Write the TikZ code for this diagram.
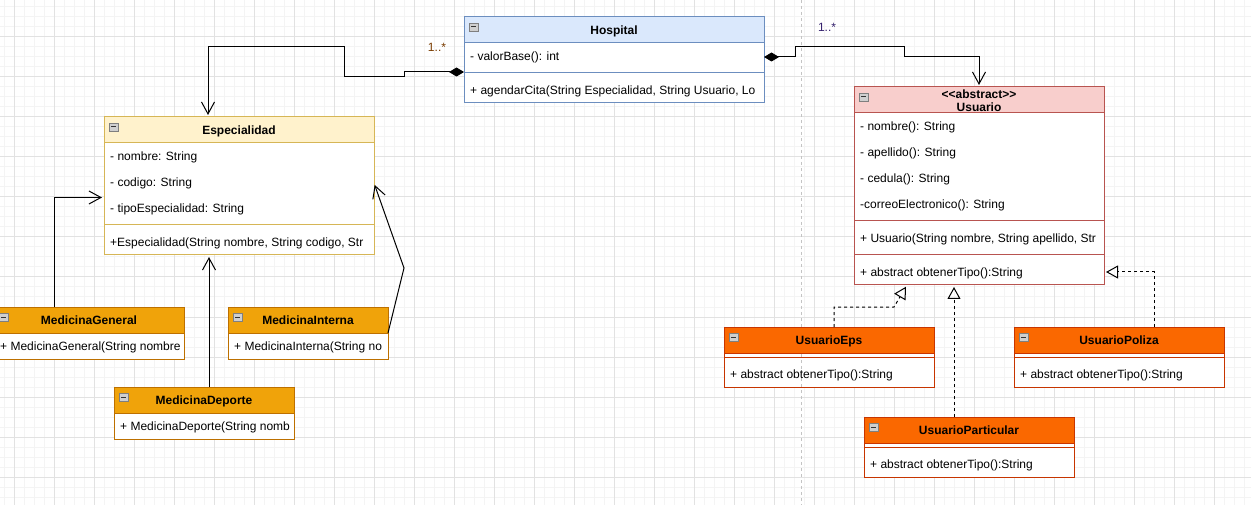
\documentclass[tikz,border=0pt]{standalone}
\usepackage{fontspec}
\setmainfont{Liberation Sans}
\usetikzlibrary{arrows.meta}
\definecolor{hospF}{HTML}{DAE8FC}
\definecolor{hospS}{HTML}{6C8EBF}
\definecolor{espF}{HTML}{FFF2CC}
\definecolor{espS}{HTML}{D6B656}
\definecolor{usuF}{HTML}{F8CECC}
\definecolor{usuS}{HTML}{B85450}
\definecolor{medF}{HTML}{F0A30A}
\definecolor{medS}{HTML}{BD7000}
\definecolor{subF}{HTML}{FA6800}
\definecolor{subS}{HTML}{C73500}
\definecolor{gmin}{HTML}{F4F4F4}
\definecolor{gmaj}{HTML}{E2E2E2}
\definecolor{pgline}{HTML}{C4C4C4}
\definecolor{multA}{HTML}{7A3C00}
\definecolor{multB}{HTML}{36226E}
\definecolor{icoF}{HTML}{CFCFCF}
\definecolor{icoS}{HTML}{7F7F7F}
\newcommand\clsicon[2]{%
  \draw[icoS, fill=icoF, line width=0.8pt] (#1+5,#2+6) rectangle (#1+14,#2+14);
  \draw[black!80, line width=1pt] (#1+7,#2+10) -- (#1+12,#2+10);}
\tikzset{
  body/.style={draw, line width=1pt, fill=white, anchor=north west, inner sep=0pt, outer sep=0pt},
  head/.style={draw, line width=1pt, anchor=north west, inner sep=0pt, outer sep=0pt, minimum height=26pt},
  txt/.style={anchor=west, inner sep=0pt, font=\fontsize{12}{14}\selectfont, text height=10.6pt, text depth=2pt},
  ttl/.style={inner sep=0pt, font=\bfseries\fontsize{12}{14}\selectfont, text height=10.6pt, text depth=2pt},
  sep/.style={line width=1pt},
  link/.style={draw=black, line width=1pt},
  comp/.style={link, arrows={Diamond[length=15pt,width=9pt]-Straight Barb[length=12pt,width=13pt]}, shorten >=2pt},
  assoc/.style={link, arrows={-Straight Barb[length=12pt,width=13pt]}, shorten >=2pt},
  real/.style={link, dash pattern=on 3pt off 3pt, arrows={-Triangle[open,length=12pt,width=13pt]}, shorten >=2pt},
  mult/.style={inner sep=0pt, font=\fontsize{12}{14}\selectfont},
  gminor/.style={draw=gmin, line width=1pt},
  gmajor/.style={draw=gmaj, line width=1pt},
  pagebrk/.style={draw=pgline, line width=1pt, dash pattern=on 3pt off 3pt}
}
\begin{document}
\begin{tikzpicture}[x=1pt,y=-1pt]
\useasboundingbox (0,0) rectangle (1251,505);
\fill[white] (0,0) rectangle (1251,505);
% grid
\foreach \x in {4,14,...,1250} \draw[gminor] (\x,0) -- (\x,505);
\foreach \y in {7,17,...,505} \draw[gminor] (0,\y) -- (1251,\y);
\foreach \x in {14,54,...,1250} \draw[gmajor] (\x,0) -- (\x,505);
\foreach \y in {37,77,...,505} \draw[gmajor] (0,\y) -- (1251,\y);

% bodies
\node[body, draw=hospS, minimum width=300pt, minimum height=86pt] (hosp) at (464,17) {};
\node[body, draw=espS, minimum width=270pt, minimum height=138pt] (esp) at (104,117) {};
\node[body, draw=usuS, minimum width=250pt, minimum height=198pt] (usu) at (854,87) {};
\node[body, draw=medS, minimum width=190pt, minimum height=52pt] (mg) at (-6,307) {};
\node[body, draw=medS, minimum width=160pt, minimum height=52pt] (mi) at (228,307) {};
\node[body, draw=medS, minimum width=180pt, minimum height=52pt] (md) at (114,387) {};
\node[body, draw=subS, minimum width=210pt, minimum height=60pt] (eps) at (724,327) {};
\node[body, draw=subS, minimum width=210pt, minimum height=60pt] (pol) at (1014,327) {};
\node[body, draw=subS, minimum width=210pt, minimum height=60pt] (par) at (864,417) {};

% page break line
\draw[pagebrk] (801,0) -- (801,505);

% Hospital
\node[head, fill=hospF, draw=hospS, minimum width=300pt] (hospH) at (464,17) {};
\clsicon{464}{17}
\node[ttl] (hospT) at (614,30) {Hospital};
\node[txt] (hospA1) at (470,56.5) {- valorBase(): int};
\draw[sep, hospS] (464,73) -- (764,73);
\begin{scope}
\clip (464,77) rectangle (760,103);
\node[txt] (hospM1) at (470,90.5) {+ agendarCita(String Especialidad, String Usuario, Lo};
\end{scope}

% Especialidad
\node[head, fill=espF, draw=espS, minimum width=270pt] (espH) at (104,117) {};
\clsicon{104}{117}
\node[ttl] (espT) at (239,130) {Especialidad};
\node[txt] (espA1) at (110,156.5) {- nombre: String};
\node[txt] (espA2) at (110,182.5) {- codigo: String};
\node[txt] (espA3) at (110,208.5) {- tipoEspecialidad: String};
\draw[sep, espS] (104,225) -- (374,225);
\begin{scope}
\clip (104,229) rectangle (371,255);
\node[txt] (espM1) at (110,242.5) {+Especialidad(String nombre, String codigo, Str};
\end{scope}

% Usuario
\node[head, fill=usuF, draw=usuS, minimum width=250pt] (usuH) at (854,87) {};
\clsicon{854}{87}
\node[ttl] (usuT1) at (979,94) {<\kern0pt<abstract>\kern0pt>};
\node[ttl] (usuT2) at (979,107) {Usuario};
\node[txt] (usuA1) at (860,126.5) {- nombre(): String};
\node[txt] (usuA2) at (860,152.5) {- apellido(): String};
\node[txt] (usuA3) at (860,178.5) {- cedula(): String};
\node[txt] (usuA4) at (860,204.5) {-correoElectronico(): String};
\draw[sep, usuS] (854,221) -- (1104,221);
\begin{scope}
\clip (854,225) rectangle (1101,251);
\node[txt] (usuM1) at (860,238.5) {+ Usuario(String nombre, String apellido, Str};
\end{scope}
\draw[sep, usuS] (854,255) -- (1104,255);
\node[txt] (usuM2) at (860,272.5) {+ abstract obtenerTipo():String};

% MedicinaGeneral
\node[head, fill=medF, draw=medS, minimum width=190pt] (mgH) at (-6,307) {};
\clsicon{-6}{307}
\node[ttl] (mgT) at (89,320) {MedicinaGeneral};
\begin{scope}
\clip (-6,333) rectangle (181,359);
\node[txt] (mgM1) at (0,346.5) {+ MedicinaGeneral(String nombre};
\end{scope}

% MedicinaInterna
\node[head, fill=medF, draw=medS, minimum width=160pt] (miH) at (228,307) {};
\clsicon{228}{307}
\node[ttl] (miT) at (308,320) {MedicinaInterna};
\begin{scope}
\clip (228,333) rectangle (385,359);
\node[txt] (miM1) at (234,346.5) {+ MedicinaInterna(String no};
\end{scope}

% MedicinaDeporte
\node[head, fill=medF, draw=medS, minimum width=180pt] (mdH) at (114,387) {};
\clsicon{114}{387}
\node[ttl] (mdT) at (204,400) {MedicinaDeporte};
\begin{scope}
\clip (114,413) rectangle (291,439);
\node[txt] (mdM1) at (120,426.5) {+ MedicinaDeporte(String nomb};
\end{scope}

% UsuarioEps
\node[head, fill=subF, draw=subS, minimum width=210pt] (epsH) at (724,327) {};
\clsicon{724}{327}
\node[ttl] (epsT) at (829,340) {UsuarioEps};
\draw[sep, subS] (724,357) -- (934,357);
\node[txt] (epsM1) at (730,374.5) {+ abstract obtenerTipo():String};

% UsuarioPoliza
\node[head, fill=subF, draw=subS, minimum width=210pt] (polH) at (1014,327) {};
\clsicon{1014}{327}
\node[ttl] (polT) at (1119,340) {UsuarioPoliza};
\draw[sep, subS] (1014,357) -- (1224,357);
\node[txt] (polM1) at (1020,374.5) {+ abstract obtenerTipo():String};

% UsuarioParticular
\node[head, fill=subF, draw=subS, minimum width=210pt] (parH) at (864,417) {};
\clsicon{864}{417}
\node[ttl] (parT) at (969,430) {UsuarioParticular};
\draw[sep, subS] (864,447) -- (1074,447);
\node[txt] (parM1) at (870,464.5) {+ abstract obtenerTipo():String};

% connection points
\coordinate (hospL) at (464,72);
\coordinate (hospR) at (764,57);
\coordinate (espTop) at (208,117);
\coordinate (espLeft) at (104,197.5);
\coordinate (espBot) at (209,255);
\coordinate (espRight) at (374,183);
\coordinate (mgTop) at (54,307);
\coordinate (mdTop) at (209,387);
\coordinate (miRight) at (388,333);
\coordinate (usuTop) at (979,87);
\coordinate (usuBotA) at (907,285);
\coordinate (usuBotB) at (954,285);
\coordinate (usuRight) at (1104,272);
\coordinate (epsTop) at (834,327);
\coordinate (parTop) at (954,417);
\coordinate (polTop) at (1154,327);

% connectors
\draw[comp] (hospL) -- (404,72) -- (404,77) -- (344,77) -- (344,47) -- (208,47) -- (espTop);
\draw[comp] (hospR) -- (795,57) -- (795,47) -- (904,47) -- (904,57) -- (979,57) -- (usuTop);
\draw[assoc] (mgTop) -- (54,197.5) -- (espLeft);
\draw[assoc] (mdTop) -- (espBot);
\draw[assoc] (miRight) -- (404,268) -- (espRight);
\draw[real] (epsTop) -- (834,307) -- (894,307) -- (usuBotA);
\draw[real] (parTop) -- (usuBotB);
\draw[real] (polTop) -- (1154,272) -- (usuRight);

% multiplicities
\node[mult, text=multA] (mult1) at (437,47) {1..*};
\node[mult, text=multB] (mult2) at (827,27) {1..*};
\end{tikzpicture}
\end{document}
